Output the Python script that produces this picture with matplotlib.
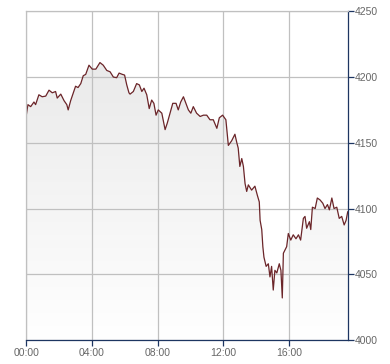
import matplotlib
matplotlib.use('Agg')
import matplotlib.pyplot as plt
import numpy as np
from matplotlib.colors import LinearSegmentedColormap

# minutes since 00:00 and index level
minutes = [0, 6, 16, 28, 34, 46, 58, 71, 83, 95, 107, 113, 126, 138, 148, 153,
           162, 172, 180, 189, 199, 208, 217, 229, 241, 254, 269, 281, 294, 306,
           318, 330, 339, 351, 359, 367, 375, 379, 391, 403, 413, 422, 430, 440,
           449, 458, 466, 474, 482, 495, 507, 515, 525, 535, 547, 555, 564, 574,
           583, 592, 601, 610, 622, 635, 647, 659, 671, 683, 696, 705, 717, 729,
           738, 750, 762, 769, 774, 780, 787, 793, 799, 805, 811, 823, 835, 844,
           851, 854, 860, 864, 868, 876, 884, 890, 896, 902, 908, 915, 924, 930,
           935, 939, 951, 957, 966, 975, 985, 994, 1002, 1012, 1018, 1024, 1034,
           1039, 1045, 1055, 1063, 1073, 1083, 1091, 1100, 1107, 1116, 1124, 1134,
           1143, 1152, 1161, 1168, 1174]
level = [4171, 4179, 4177.5, 4181, 4179, 4186.5, 4185, 4185.5, 4190, 4188, 4189,
         4184, 4187, 4182, 4179, 4175, 4182, 4188, 4193, 4192, 4195, 4201, 4202,
         4209, 4206, 4206, 4211, 4209, 4205, 4204, 4200, 4199.5, 4203, 4202,
         4201.5, 4194, 4188, 4187, 4189, 4195, 4194, 4189, 4191.5, 4186.5, 4176,
         4182.5, 4180, 4171, 4175, 4172.5, 4160, 4165, 4172.5, 4180, 4180, 4175,
         4181, 4185, 4180, 4175, 4172.5, 4177.5, 4172.5, 4170, 4171, 4171,
         4167.5, 4167.5, 4161, 4169, 4171, 4167.5, 4148, 4151.5, 4156.5, 4150,
         4146, 4132, 4138, 4132, 4119, 4113, 4118, 4114, 4117, 4110, 4105, 4091,
         4084, 4071, 4063, 4056, 4058, 4048, 4056, 4038, 4053, 4051, 4058, 4053,
         4032, 4066, 4071, 4081, 4076, 4080, 4077, 4080, 4076, 4092.5, 4094, 4085,
         4090, 4084, 4101, 4100, 4108, 4106.5, 4104, 4100, 4103, 4099, 4108, 4100,
         4101, 4092.5, 4094, 4087.5, 4091, 4097.5]

xticks = [0, 240, 480, 720, 960]
xtick_labels = ['00:00', '04:00', '08:00', '12:00', '16:00']
yticks = [4000, 4050, 4100, 4150, 4200, 4250]

x_max = 1176
y_min, y_max = 4000, 4250

navy = '#1d3561'
grid_c = '#c0c0c0'

fig = plt.figure(figsize=(3.9, 3.64), dpi=100)
ax = fig.add_axes([0.0674, 0.0659, 0.8256, 0.9031])

# gradient area under the line
cmap = LinearSegmentedColormap.from_list('g', ['#ffffff', '#e6e6e6'])
grad = np.linspace(0, 1, 256).reshape(-1, 1)
im = ax.imshow(grad, cmap=cmap, origin='lower', aspect='auto',
               extent=[0, x_max, y_min, y_max], zorder=1)
poly = ax.fill_between(minutes, level, y_min, color='none', lw=0)
im.set_clip_path(poly.get_paths()[0], transform=ax.transData)

ax.plot(minutes, level, color='#6b2529', lw=0.9, zorder=3)

ax.set_xlim(0, x_max)
ax.set_ylim(y_min, y_max)

ax.set_xticks(xticks)
ax.set_xticklabels(xtick_labels)
ax.set_yticks(yticks)
ax.yaxis.tick_right()

ax.grid(True, color=grid_c, lw=0.9, zorder=2)
ax.set_axisbelow(False)
for ln in ax.get_xgridlines() + ax.get_ygridlines():
    ln.set_zorder(2)

ax.spines['top'].set_color(grid_c)
ax.spines['left'].set_color(grid_c)
ax.spines['bottom'].set_color(navy)
ax.spines['right'].set_color(navy)
for s in ax.spines.values():
    s.set_linewidth(0.9)
    s.set_zorder(4)

ax.tick_params(axis='both', colors=navy, labelcolor='#666666', labelsize=7.5,
               length=4, width=0.9, direction='out')
ax.tick_params(axis='y', pad=1)
ax.tick_params(axis='x', pad=2)
for lab in ax.get_xticklabels() + ax.get_yticklabels():
    lab.set_fontfamily('Liberation Sans')

fig.savefig('out.png', dpi=100)
